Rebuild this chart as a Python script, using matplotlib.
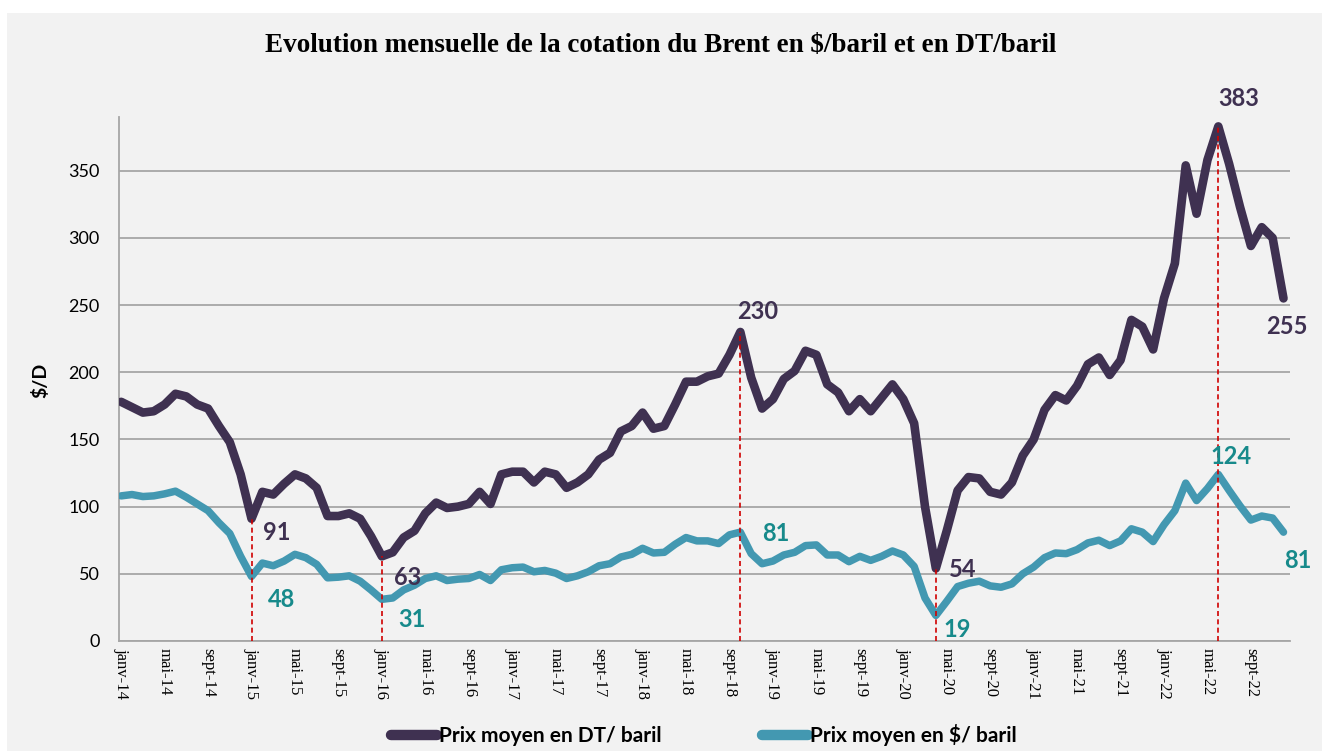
import numpy as np
import matplotlib
matplotlib.use("Agg")
import matplotlib.pyplot as plt
from matplotlib.patches import Rectangle

# monthly labels janv-14 .. déc-22
mois = ['janv', 'févr', 'mars', 'avr', 'mai', 'juin', 'juil', 'août', 'sept', 'oct', 'nov', 'déc']
annees = ['14', '15', '16', '17', '18', '19', '20', '21', '22']
labels = [m + '-' + a for a in annees for m in mois]

# Prix moyen en DT / baril
prix_dt = [178, 174, 170, 171, 176, 184, 182, 176, 173, 160, 148, 124,
           91, 111, 109, 117, 124, 121, 114, 93, 93, 95, 91, 78,
           63, 66, 77, 82, 95, 103, 99, 100, 102, 111, 102, 124,
           126, 126, 118, 126, 124, 114, 118, 124, 135, 140, 156, 160,
           170, 158, 160, 176, 193, 193, 197, 199, 213, 230, 196, 173,
           180, 195, 201, 216, 213, 191, 185, 171, 180, 171, 181, 191,
           180, 162, 100, 54, 82, 112, 122, 121, 111, 109, 118, 138,
           150, 172, 183, 179, 190, 206, 211, 198, 209, 239, 234, 217,
           255, 281, 354, 318, 358, 383, 355, 323, 294, 308, 300, 255]

# Prix moyen en $ / baril
prix_usd = [108, 109, 107.5, 108, 109.5, 111.5, 107, 102, 97, 88, 80, 63,
            48, 58, 56, 59.5, 64.5, 62, 57, 47, 47.5, 48.5, 44.5, 38,
            31, 32, 38, 41.5, 46.5, 48.5, 45, 46, 46.5, 49.5, 45, 53,
            54.5, 55, 51.5, 52.5, 50.5, 46.5, 48.5, 51.5, 56, 57.5, 62.5, 64.5,
            69, 65.5, 66, 72, 77, 74.5, 74.5, 72.5, 79, 81, 65, 57.5,
            59.5, 64, 66, 71, 71.5, 64, 64, 59, 63, 60, 63, 67,
            64, 55.5, 32, 19, 29.5, 40.5, 43, 44.5, 41, 40, 42.5, 50,
            55, 62, 65.5, 65, 68, 73, 75, 71, 74.5, 83.5, 81, 74,
            86.5, 97, 117.5, 104.5, 113.5, 124, 112, 100.5, 90, 93, 91.5, 81]

# months marked with a red dashed line and labelled
points_cles = [12, 24, 57, 75, 101]

col_dt = '#3F3151'
col_usd = '#4398B1'
col_usd_txt = '#178A8B'

x = np.arange(len(labels))

plt.rcParams['font.family'] = ['Lato', 'DejaVu Sans']

fig = plt.figure(figsize=(13.22, 7.51), dpi=100)
fig.patch.set_facecolor('white')
fig.add_artist(Rectangle((7 / 1322, 0), 1, (751 - 13) / 751, transform=fig.transFigure,
                         facecolor='#F2F2F2', edgecolor='none', zorder=-10))

ax = fig.add_axes([0.090, 0.1465, 0.8858, 0.6977])
ax.set_facecolor('#F2F2F2')

ax.plot(x, prix_dt, color=col_dt, lw=6.2, solid_capstyle='round', solid_joinstyle='round',
        label='Prix moyen en DT/ baril', zorder=3)
ax.plot(x, prix_usd, color=col_usd, lw=5.4, solid_capstyle='round', solid_joinstyle='round',
        label='Prix moyen en $/ baril', zorder=3)

for i in points_cles:
    ax.plot([i, i], [0, prix_dt[i]], color='#D00000', lw=1.2, ls=(0, (3, 2)), zorder=4)

# value labels
lab_dt = {12: (14.3, 80.5), 24: (26.4, 47), 57: (58.6, 245), 75: (77.5, 53), 101: (102.9, 404), 107: (107.3, 234)}
lab_usd = {12: (14.8, 31), 24: (26.8, 16), 57: (60.3, 80), 75: (77.0, 8.5), 101: (102.2, 137), 107: (108.3, 60)}
for i, (tx, ty) in lab_dt.items():
    ax.text(tx, ty, f'{prix_dt[i]:.0f}', color=col_dt, fontsize=17, fontweight='bold',
            ha='center', va='center', clip_on=False, zorder=5)
for i, (tx, ty) in lab_usd.items():
    ax.text(tx, ty, f'{prix_usd[i]:.0f}', color=col_usd_txt, fontsize=17, fontweight='bold',
            ha='center', va='center', clip_on=False, zorder=5)

ax.set_xlim(-0.2, 107.6)
ax.set_ylim(0, 390)
ax.set_yticks(np.arange(0, 351, 50))
ax.set_xticks(x[::4])
ax.set_xticklabels(labels[::4], rotation=270, family='Liberation Serif', fontsize=12)
ax.tick_params(axis='x', length=0, pad=5)
ax.tick_params(axis='y', length=0, pad=14, labelsize=13)

ax.yaxis.grid(True, color='#A6A6A6', lw=1.3)
ax.set_axisbelow(True)
for s in ['top', 'right']:
    ax.spines[s].set_visible(False)
for s in ['left', 'bottom']:
    ax.spines[s].set_color('#A6A6A6')
    ax.spines[s].set_linewidth(1.3)

fig.text(40 / 1322, 1 - 380 / 751, '$/D', rotation=90, fontsize=14, fontweight='bold',
         ha='center', va='center')
fig.text(0.5, 1 - 45 / 751, 'Evolution mensuelle de la cotation du Brent en $/baril et en DT/baril',
         family='Liberation Serif', fontsize=19.5, fontweight='bold', ha='center', va='center')

leg = fig.legend(loc='center', bbox_to_anchor=(704 / 1322, 1 - 735 / 751), ncol=2, frameon=False,
                 handlelength=2.2, handletextpad=0.1, columnspacing=4.8,
                 prop={'family': 'Lato', 'weight': 'bold', 'size': 15})
for h in leg.get_lines():
    h.set_linewidth(7.5)
    h.set_solid_capstyle('round')

fig.savefig('out.png', dpi=100)
